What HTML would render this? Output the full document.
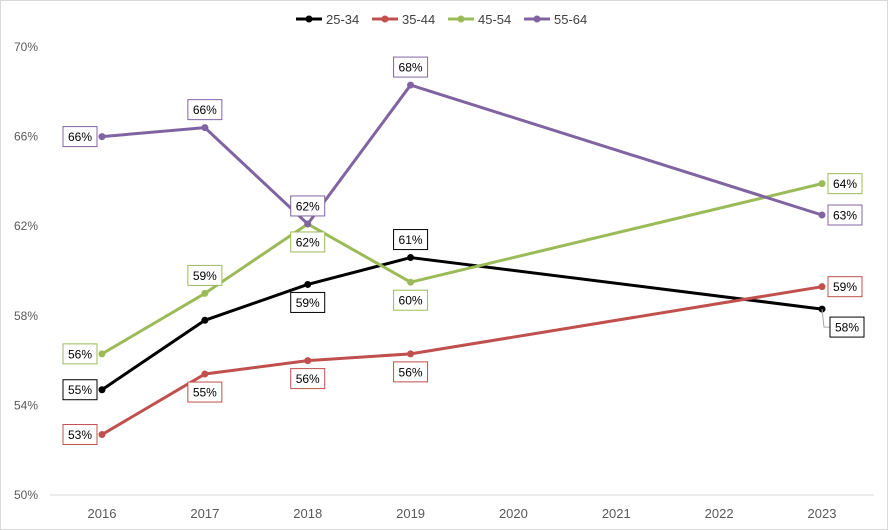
<!DOCTYPE html>
<html><head><meta charset="utf-8"><style>
body{margin:0;background:#fff;font-family:"Liberation Sans",Arial,sans-serif}
svg{display:block}
</style></head><body>
<svg id="chart" width="888" height="530" viewBox="0 0 888 530" xmlns="http://www.w3.org/2000/svg">
<rect x="0.5" y="0.5" width="887" height="529" fill="#fff" stroke="#d9d9d9"/>
</svg>
<script>
const years = [2016, 2017, 2018, 2019, 2023];
const xTicks = ['2016','2017','2018','2019','2020','2021','2022','2023'];
const yTicks = [50, 54, 58, 62, 66, 70];
const seriesNames = ['25-34', '35-44', '45-54', '55-64'];
const s2534 = [54.7, 57.8, 59.4, 60.6, 58.3];
const s3544 = [52.7, 55.4, 56.0, 56.3, 59.3];
const s4554 = [56.3, 59.0, 62.1, 59.5, 63.9];
const s5564 = [66.0, 66.4, 62.1, 68.3, 62.5];
const l2534 = ['55%', '', '59%', '61%', '58%'];
const l3544 = ['53%', '55%', '56%', '56%', '59%'];
const l4554 = ['56%', '59%', '62%', '60%', '64%'];
const l5564 = ['66%', '66%', '62%', '68%', '63%'];

const colors = ['#000000', '#C0504D', '#9BBB59', '#8064A2'];
const place = [
  ['L','', 'B','A','BR'],
  ['L','B','B','B','R'],
  ['L','A','B','B','R'],
  ['L','A','A','A','R']
];
const allVals = [s2534, s3544, s4554, s5564];
const allLabels = [l2534, l3544, l4554, l5564];
const svg = document.getElementById('chart');
const NS = 'http://www.w3.org/2000/svg';
const x = yr => 102 + (yr - 2016) * (720 / 7);
const y = v => 495 - (v - 50) * (448 / 20);
function mk(tag, attrs, parent) {
  const e = document.createElementNS(NS, tag);
  for (const k in attrs) e.setAttribute(k, attrs[k]);
  (parent || svg).appendChild(e);
  return e;
}
// axis
const ax = mk('line', {x1: 50, x2: 874, y1: y(50), y2: y(50), stroke: '#d9d9d9'});


yTicks.forEach(t => {
  const tx = mk('text', {x: 38, y: y(t) + 4, 'text-anchor': 'end', 'font-size': 12, fill: '#595959'});
  tx.textContent = t + '%';
  
  
});
xTicks.forEach(t => {
  const tx = mk('text', {x: x(+t), y: 518, 'text-anchor': 'middle', 'font-size': 13, fill: '#595959'});
  tx.textContent = t;
  
  
});
// legend
let lx = 296;
seriesNames.forEach((n, i) => {
  const g = mk('g', {});
  
  
  mk('line', {x1: lx, x2: lx + 26, y1: 19, y2: 19, stroke: colors[i], 'stroke-width': 3}, g);
  mk('circle', {cx: lx + 13, cy: 19, r: 3.5, fill: colors[i]}, g);
  const t = mk('text', {x: lx + 30, y: 24, 'font-size': 13, fill: '#404040'}, g);
  t.textContent = n;
  lx += 76;
});
// series
allVals.forEach((vals, si) => {
  const g = mk('g', {});
  
  
  const pts = vals.map((v, i) => x(years[i]) + ',' + y(v)).join(' ');
  mk('polyline', {points: pts, fill: 'none', stroke: colors[si], 'stroke-width': 3, 'stroke-linejoin': 'round'}, g);
  vals.forEach((v, i) => {
    const c = mk('circle', {cx: x(years[i]), cy: y(v), r: 3.5, fill: colors[si]}, g);
    
    
  });
});
// labels
allVals.forEach((vals, si) => {
  vals.forEach((v, i) => {
    const txt = allLabels[si][i];
    if (!txt) return;
    const px = x(years[i]), py = y(v);
    const p = place[si][i];
    let cx = px, cy = py;
    if (p === 'L') cx = px - 22;
    else if (p === 'R') cx = px + 23;
    else if (p === 'A') cy = py - 18;
    else if (p === 'B') cy = py + 18;
    else if (p === 'BR') { cx = px + 25; cy = py + 18; }
    const g = mk('g', {});
    
    
    if (p === 'BR') mk('polyline', {points: `${px},${py} ${px+2},${cy} ${cx-17},${cy}`, fill: 'none', stroke: '#a6a6a6'}, g);
    mk('rect', {x: cx - 17, y: cy - 10, width: 34, height: 20, fill: '#fff', stroke: colors[si]}, g);
    const t = mk('text', {x: cx, y: cy + 4.5, 'text-anchor': 'middle', 'font-size': 12, fill: '#000'}, g);
    t.textContent = txt;
  });
});
</script>
</body></html>
